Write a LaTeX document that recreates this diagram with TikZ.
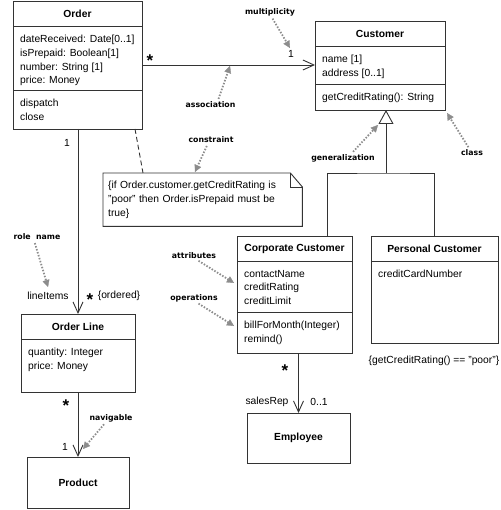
\documentclass[tikz,border=0pt]{standalone}
\usepackage{fontspec}
\setmainfont{Liberation Sans}
\newfontfamily\remarkfont{DejaVu Sans}
\usepackage{tikz}
\usetikzlibrary{arrows.meta, positioning, calc}

\begin{document}
\begin{tikzpicture}[%
    x=1pt, y=-1pt,
    every node/.style={%
      font=\fontsize{10.3}{13.7}\selectfont,
      text=black
    },
    line/.style={draw=black!80, line width=0.9pt},
    cls/.style={line, outer sep=0pt, inner sep=0pt, anchor=north west},
    solo/.style={cls, font=\fontsize{10.3}{13.7}\selectfont\bfseries},
    title/.style={font=\fontsize{10.3}{13.7}\selectfont\bfseries, inner sep=0pt},
    body/.style={align=left, inner sep=0pt},
    mult/.style={inner sep=0pt},
    star/.style={font=\fontsize{17}{17}\selectfont\bfseries, inner sep=0pt},
    assoc/.style={line, -{Straight Barb[length=11pt, width=10pt]}},
    remark/.style={font=\remarkfont\fontsize{7.8}{9}\selectfont\bfseries, inner sep=0pt},
    pointer/.style={%
      draw=black!45, line width=1.8pt, dash pattern=on 1.5pt off 1.6pt,
      shorten <=3pt,
      -{Triangle[length=7pt, width=7pt, line width=0.3pt, fill=black!45]}
    }
  ]
  \useasboundingbox (0,0) rectangle (500,510);

  % Order
  \node[cls, minimum width=129pt, minimum height=128pt] (order) at (13,1) {};
  \node[title, below=0pt of order.north, minimum height=25pt] (order-t) {Order};
  \coordinate (order-a) at ($(order.north west)+(0,25)$);
  \coordinate (order-o) at ($(order.north west)+(0,89)$);
  \draw[line] (order-a) -- (order-a -| order.east);
  \draw[line] (order-o) -- (order-o -| order.east);
  \node[body, below right=9pt and 7pt of order-a] (order-at)
    {dateReceived: Date[0..1]\\isPrepaid: Boolean[1]\\number: String [1]\\price: Money};
  \node[body, below right=9pt and 7pt of order-o] (order-op)
    {dispatch\\close};

  % Customer
  \node[cls, minimum width=130pt, minimum height=89pt] (cust) at (315,21) {};
  \node[title, below=0pt of cust.north, minimum height=25pt] (cust-t) {Customer};
  \coordinate (cust-a) at ($(cust.north west)+(0,25)$);
  \coordinate (cust-o) at ($(cust.north west)+(0,63)$);
  \draw[line] (cust-a) -- (cust-a -| cust.east);
  \draw[line] (cust-o) -- (cust-o -| cust.east);
  \node[body, below right=9pt and 7pt of cust-a] (cust-at)
    {name [1]\\address [0..1]};
  \node[body, below right=9pt and 7pt of cust-o] (cust-op)
    {getCreditRating(): String};

  % Corporate Customer
  \node[cls, minimum width=115pt, minimum height=117pt] (corp) at (237,236) {};
  \node[title, below=0pt of corp.north, minimum height=25pt] (corp-t) {Corporate Customer};
  \coordinate (corp-a) at ($(corp.north west)+(0,25)$);
  \coordinate (corp-o) at ($(corp.north west)+(0,76)$);
  \draw[line] (corp-a) -- (corp-a -| corp.east);
  \draw[line] (corp-o) -- (corp-o -| corp.east);
  \node[body, below right=9pt and 7pt of corp-a] (corp-at)
    {contactName\\creditRating\\creditLimit};
  \node[body, below right=9pt and 7pt of corp-o] (corp-op)
    {billForMonth(Integer)\\remind()};

  % Personal Customer
  \node[cls, minimum width=127pt, minimum height=107pt] (pers) at (371,236) {};
  \node[title, below=0pt of pers.north, minimum height=25pt] (pers-t) {Personal Customer};
  \coordinate (pers-a) at ($(pers.north west)+(0,25)$);
  \draw[line] (pers-a) -- (pers-a -| pers.east);
  \node[body, below right=9pt and 7pt of pers-a] (pers-at) {creditCardNumber};
  \node[mult] (pers-c) at (434,361) {\{getCreditRating() == "poor"\}};

  % Order Line
  \node[cls, minimum width=114pt, minimum height=78pt] (oline) at (21,314) {};
  \node[title, below=0pt of oline.north, minimum height=25pt] (oline-t) {Order Line};
  \coordinate (oline-a) at ($(oline.north west)+(0,25)$);
  \draw[line] (oline-a) -- (oline-a -| oline.east);
  \node[body, below right=9pt and 7pt of oline-a] (oline-at)
    {quantity: Integer\\price: Money};

  % Product, Employee
  \node[solo, minimum width=102pt, minimum height=51pt] (product) at (27,457) {Product};
  \node[solo, minimum width=103pt, minimum height=50pt] (emp) at (247,413) {Employee};

  % Note
  \node[body, anchor=north west, inner xsep=5pt, text width=189pt,
    minimum width=199pt, minimum height=53pt] (note) at (103,173)
    {\{if Order.customer.getCreditRating is\\"poor" then Order.isPrepaid must be\\true\}};
  \draw[line] (note.north west) -- ([xshift=-12pt]note.north east)
    -- ([yshift=-14pt]note.north east) -- (note.south east)
    -- (note.south west) -- cycle;
  \draw[line] ([xshift=-12pt]note.north east) -- ([xshift=-12pt, yshift=-14pt]note.north east)
    -- ([yshift=-14pt]note.north east);

  % Associations
  \draw[assoc] (order.east |- 0,65) -- (cust.west |- 0,65);
  \draw[assoc] (order.south -| oline.north) -- (oline.north);
  \draw[assoc] (oline.south) -- (product.north);
  \draw[assoc] (corp.south -| emp.north) -- (emp.north);
  \draw[line, dash pattern=on 5pt off 3pt] (order.south -| 135,0) -- (note.north -| 143,0);

  % Generalization
  \coordinate (gen) at (386,173);
  \draw[line] (corp.north -| 327,0) |- (gen) -| (pers.north);
  \draw[line, -{Triangle[open, length=14pt, width=15pt]}] (gen) -- (gen |- cust.south);

  % Multiplicities and role names
  \node[star] (s-cust) at (150,61) {*};
  \node[mult] (m-cust) at (291,54) {1};
  \node[mult] (m-order) at (67,143) {1};
  \node[mult] (n-items) at (48,296) {lineItems};
  \node[star] (s-items) at (90,300) {*};
  \node[mult] (n-ordered) at (119,296) {\{ordered\}};
  \node[star] (s-prod) at (66,406) {*};
  \node[mult] (m-prod) at (65,447) {1};
  \node[star] (s-emp) at (285,371) {*};
  \node[mult] (n-rep) at (267,402) {salesRep};
  \node[mult] (m-emp) at (319,402) {0..1};

  % Remarks
  \node[remark] (r-mult) at (270,12) {multiplicity};
  \node[remark] (r-assoc) at (210.5,105) {association};
  \node[remark] (r-cons) at (211,140) {constraint};
  \node[remark] (r-class) at (472,153) {class};
  \node[remark] (r-gen) at (343,158) {generalization};
  \node[remark] (r-role) at (37,237) {role~ name};
  \node[remark] (r-attr) at (194,256) {attributes};
  \node[remark] (r-ops) at (194,298) {operations};
  \node[remark] (r-nav) at (111,418) {navigable};

  \coordinate (p-mult) at (290,48);
  \coordinate (p-assoc) at (230,66);
  \coordinate (p-cons) at (195,172);
  \coordinate (p-class) at (447,113);
  \coordinate (p-gen) at (378,125);
  \coordinate (p-role) at (48,287);
  \coordinate (p-attr) at (234,283);
  \coordinate (p-ops) at (234,326);
  \coordinate (p-nav) at (83,449);

  \draw[pointer] ([xshift=1pt]r-mult.south) -- (p-mult);
  \draw[pointer] ([xshift=7pt]r-assoc.north) -- (p-assoc);
  \draw[pointer] ([xshift=-3pt]r-cons.south) -- (p-cons);
  \draw[pointer] ([xshift=-2pt]r-class.north) -- (p-class);
  \draw[pointer] ([xshift=8pt]r-gen.north) -- (p-gen);
  \draw[pointer] ([xshift=-3pt]r-role.south) -- (p-role);
  \draw[pointer] ([xshift=2pt]r-attr.south) -- (p-attr);
  \draw[pointer] ([xshift=2pt]r-ops.south) -- (p-ops);
  \draw[pointer] ([xshift=-5pt]r-nav.south) -- (p-nav);

\end{tikzpicture}
\end{document}
